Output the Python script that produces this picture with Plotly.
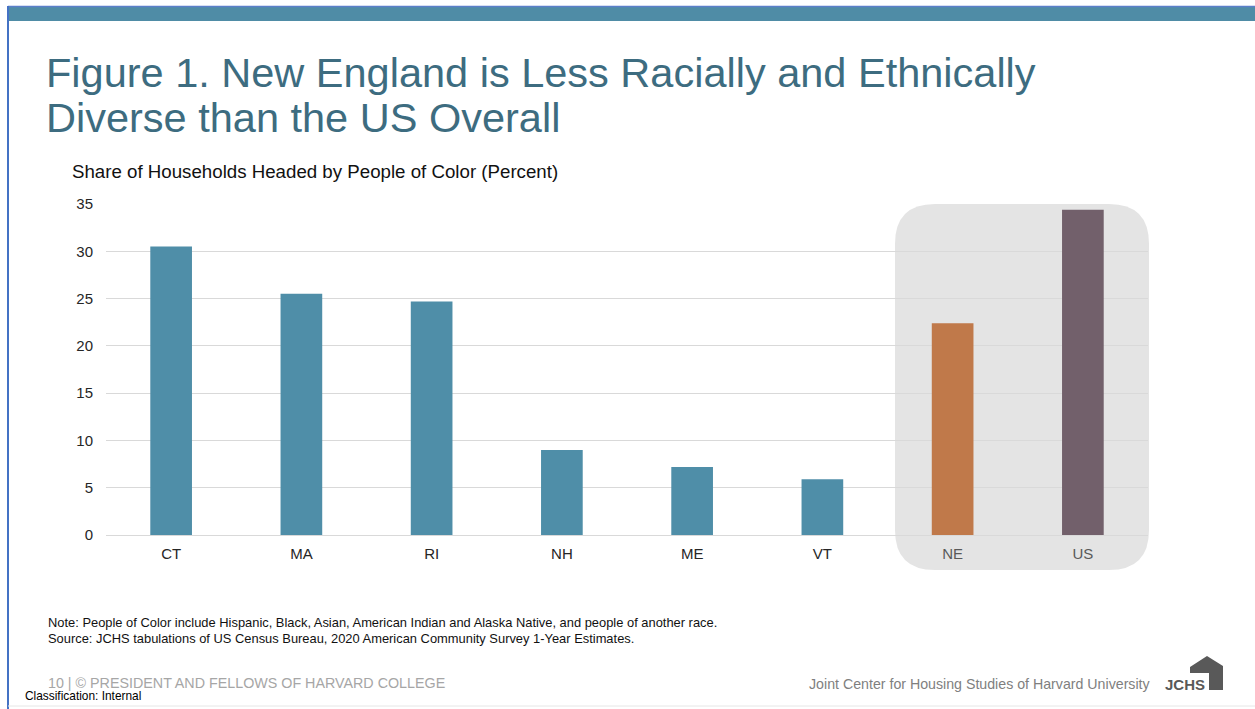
import plotly.graph_objects as go

# ---- data ----
categories = ["CT", "MA", "RI", "NH", "ME", "VT", "NE", "US"]
values = [30.5, 25.5, 24.7, 9.0, 7.2, 5.9, 22.4, 34.4]
bar_colors = ["#4f8ea8"] * 6 + ["#c0794a", "#72606b"]
label_colors = ["#262626"] * 6 + ["#595959", "#595959"]
y_ticks = [0, 5, 10, 15, 20, 25, 30, 35]

W, H = 1255, 709
L, R, T, B = 106, 1148, 204, 535  # plot area in pixels


def px(x):
    return (x - L) / (R - L)


def py(y):
    return (B - y) / (B - T)


tick_text = [f"<span style='color:{c}'>{t}</span>" for t, c in zip(categories, label_colors)]

fig = go.Figure()
fig.add_trace(go.Bar(
    x=categories, y=values, marker=dict(color=bar_colors, line=dict(width=0)),
    width=0.32, hoverinfo="x+y",
))

# rounded highlight rectangle behind NE / US
x0, x1, y0, y1, r = 895, 1149, 204, 570, 40
rx, ry = r / (R - L), r / (B - T)
X0, X1, Y0, Y1 = px(x0), px(x1), py(y1), py(y0)
path = (f"M {X0+rx} {Y1} L {X1-rx} {Y1} Q {X1} {Y1} {X1} {Y1-ry} "
        f"L {X1} {Y0+ry} Q {X1} {Y0} {X1-rx} {Y0} L {X0+rx} {Y0} "
        f"Q {X0} {Y0} {X0} {Y0+ry} L {X0} {Y1-ry} Q {X0} {Y1} {X0+rx} {Y1} Z")
shapes = [dict(type="path", xref="paper", yref="paper", path=path,
               fillcolor="#e4e4e4", line=dict(width=0), layer="below")]

# slide decorations
shapes.append(dict(type="rect", xref="paper", yref="paper", x0=px(8), x1=px(1255), y0=py(21), y1=py(7),
                   fillcolor="#4f8ca6", line=dict(width=0), layer="above"))
shapes.append(dict(type="line", xref="paper", yref="paper", x0=px(8), x1=px(1255), y0=py(6.5), y1=py(6.5),
                   line=dict(color="#5b7fc9", width=1.5)))
shapes.append(dict(type="line", xref="paper", yref="paper", x0=px(8), x1=px(8), y0=py(6), y1=py(709),
                   line=dict(color="#4472c4", width=2)))
shapes.append(dict(type="line", xref="paper", yref="paper", x0=px(8), x1=px(1255), y0=py(706), y1=py(706),
                   line=dict(color="#e6e6e6", width=1)))

# JCHS house logo
hx = [1190, 1207, 1223, 1223, 1209, 1209, 1190]
hy = [667, 656, 666, 690, 690, 673, 673]
hp = "M " + " L ".join(f"{px(a)} {py(b)}" for a, b in zip(hx, hy)) + " Z"
shapes.append(dict(type="path", xref="paper", yref="paper", path=hp,
                   fillcolor="#595959", line=dict(width=0)))

FONT = "Liberation Sans, Arial, sans-serif"


def ann(text, x, y, size, color, xanchor="left", yanchor="middle", **kw):
    return dict(text=text, x=px(x), y=py(y), xref="paper", yref="paper", showarrow=False,
                xanchor=xanchor, yanchor=yanchor, align="left",
                font=dict(family=FONT, size=size, color=color), **kw)


annotations = [
    ann("Figure 1. New England is Less Racially and Ethnically", 44, 72, 41.5, "#3d6c80"),
    ann("Diverse than the US Overall", 44, 117, 41.5, "#3d6c80"),
    ann("Share of Households Headed by People of Color (Percent)", 70, 172, 18.7, "#111111"),
    ann("Note: People of Color include Hispanic, Black, Asian, American Indian and Alaska Native, and people of another race.",
        46, 622, 12.9, "#111111"),
    ann("Source: JCHS tabulations of US Census Bureau, 2020 American Community Survey 1-Year Estimates.",
        46, 638, 12.9, "#111111"),
    ann("10 | © PRESIDENT AND FELLOWS OF HARVARD COLLEGE", 46, 683, 14.3, "#a6a6a6"),
    ann("Classification: Internal", 23, 696, 11.9, "#000000"),
    ann("Joint Center for Housing Studies of Harvard University", 1153, 684, 14.2, "#7f7f7f", xanchor="right"),
    ann("<b>JCHS</b>", 1163, 684, 15, "#595959"),
]

fig.update_layout(
    width=W, height=H,
    margin=dict(l=L, r=W - R, t=T, b=H - B, pad=0),
    paper_bgcolor="white", plot_bgcolor="rgba(0,0,0,0)",
    showlegend=False, bargap=0.68,
    font=dict(family=FONT, color="#262626"),
    shapes=shapes, annotations=annotations,
    xaxis=dict(tickmode="array", tickvals=categories, ticktext=tick_text,
               tickfont=dict(size=15, family=FONT), showgrid=False, showline=False,
               ticks="", ticklabelstandoff=8, fixedrange=True),
    yaxis=dict(range=[0, 35], tickvals=y_ticks, tickfont=dict(size=15, family=FONT, color="#262626"),
               showgrid=True, gridcolor="#d9d9d9", gridwidth=1, zeroline=True,
               zerolinecolor="#d9d9d9", zerolinewidth=1, showline=False, ticks="",
               ticklabelstandoff=12, fixedrange=True),
)

fig.write_html("out.html")
